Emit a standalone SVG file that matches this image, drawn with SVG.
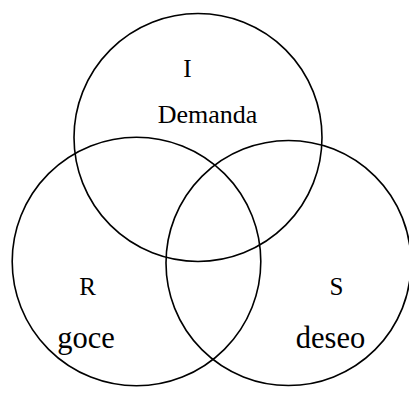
<svg xmlns="http://www.w3.org/2000/svg" width="409" height="394" viewBox="0 0 409 394">
<style>
.c{fill:none;stroke:#000;stroke-width:1.6}
text{font-family:"Liberation Serif","Times New Roman",serif;fill:#000;text-anchor:middle}
.l{font-size:25px}
.d{font-size:26px}
.w{font-size:30.5px}
</style>
<rect width="409" height="394" fill="#fff"/>
<g id="I"><circle class="c" cx="198" cy="137.5" r="124"/><text class="l" x="187.5" y="77">I</text><text class="d" x="207.5" y="122.5">Demanda</text></g>
<g id="R"><circle class="c" cx="136.5" cy="261.5" r="124.3"/><text class="l" x="87.5" y="294.5">R</text><text class="w" x="86" y="348">goce</text></g>
<g id="S"><circle class="c" cx="288.5" cy="263" r="122.5"/><text class="l" x="336.5" y="294.5">S</text><text class="w" x="330.5" y="348">deseo</text></g>
</svg>
